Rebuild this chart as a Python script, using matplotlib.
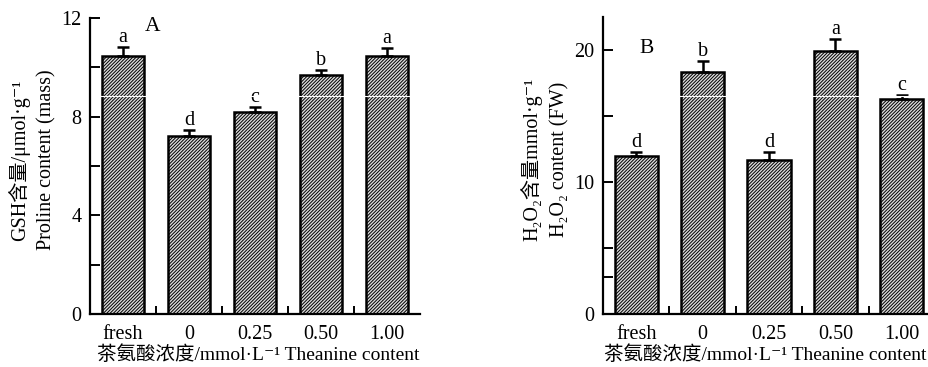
import matplotlib
matplotlib.use('Agg')
import matplotlib.pyplot as plt
import numpy as np

plt.rcParams['font.family'] = ['Liberation Serif', 'Noto Sans CJK SC', 'DejaVu Serif']
plt.rcParams['hatch.linewidth'] = 0.7
plt.rcParams['hatch.color'] = '#5a5a5a'

# data
groups = ['fresh', '0', '0.25', '0.50', '1.00']
gsh_mean = [10.45, 7.2, 8.19, 9.7, 10.45]
gsh_err = [0.37, 0.25, 0.2, 0.2, 0.33]
gsh_letters = ['a', 'd', 'c', 'b', 'a']
h2o2_mean = [12.0, 18.35, 11.67, 19.95, 16.26]
h2o2_err = [0.3, 0.8, 0.6, 0.85, 0.33]
h2o2_letters = ['d', 'b', 'd', 'a', 'c']

xlabel = '茶氨酸浓度/mmol·L⁻¹ Theanine content'
FS = 14.5


def panel(ax, mean, err, letters, ylim, major, minor, ylab1, ylab2, tag, tagpos):
    x = np.arange(len(groups))
    ax.bar(x, mean, width=0.65, color='#dadada', edgecolor='black',
           linewidth=1.8, hatch='//////////', zorder=2)
    ax.errorbar(x, mean, yerr=[np.zeros(len(err)), err], fmt='none',
                ecolor='black', elinewidth=1.8, capsize=4.5, capthick=1.8, zorder=3)
    for xi, m, e, l in zip(x, mean, err, letters):
        ax.annotate(l, (xi, m + e), xytext=(0, 0), textcoords='offset points',
                    ha='center', va='bottom', fontsize=FS)
    ax.set_xlim(-0.5, 4.5)
    ax.set_ylim(*ylim)
    ax.set_xticks(x)
    ax.set_xticklabels(groups, fontsize=FS)
    ax.set_xticks(x[:-1] + 0.5, minor=True)
    ax.set_yticks(major)
    ax.set_yticklabels([str(v) for v in major], fontsize=FS)
    ax.set_yticks(minor, minor=True)
    ax.tick_params(axis='x', which='major', length=0, pad=8)
    ax.tick_params(axis='x', which='minor', direction='in', length=6, width=1.4)
    ax.tick_params(axis='y', which='both', direction='in', length=7, width=1.4, pad=6)
    for s in ['top', 'right']:
        ax.spines[s].set_visible(False)
    for s in ['left', 'bottom']:
        ax.spines[s].set_linewidth(1.6)
    ax.set_xlabel(xlabel, fontsize=14, labelpad=1, x=0.51)
    ax.text(-0.215, 0.52, ylab1, transform=ax.transAxes, rotation=90,
            ha='center', va='center', fontsize=FS)
    ax.text(-0.13, 0.52, ylab2, transform=ax.transAxes, rotation=90,
            ha='center', va='center', fontsize=FS)
    ax.text(tagpos[0], tagpos[1], tag, transform=ax.transAxes, fontsize=FS + 1,
            ha='center', va='center')
    # scan artefact: thin white line across the bars
    ax.axhline(0.735 * ylim[1], xmin=0.02, xmax=0.98, color='white', lw=0.8, zorder=4)


fig = plt.figure(figsize=(9.29, 3.67), dpi=100)
axA = fig.add_axes([0.0969, 0.1444, 0.3552, 0.8065])
axB = fig.add_axes([0.649, 0.1444, 0.3575, 0.8093])

panel(axA, gsh_mean, gsh_err, gsh_letters, (0, 12), [0, 4, 8, 12], [2, 6, 10],
      'GSH含量/μmol·g⁻¹', 'Proline content (mass)', 'A', (0.19, 0.97))
panel(axB, h2o2_mean, h2o2_err, h2o2_letters, (0, 22.5), [0, 10, 20], [2.8, 5, 15],
      'H₂O₂含量mmol·g⁻¹', 'H₂O₂ content (FW)', 'B', (0.13, 0.895))
axB.xaxis.label.set_x(0.49)

fig.savefig('out.png', dpi=100)
